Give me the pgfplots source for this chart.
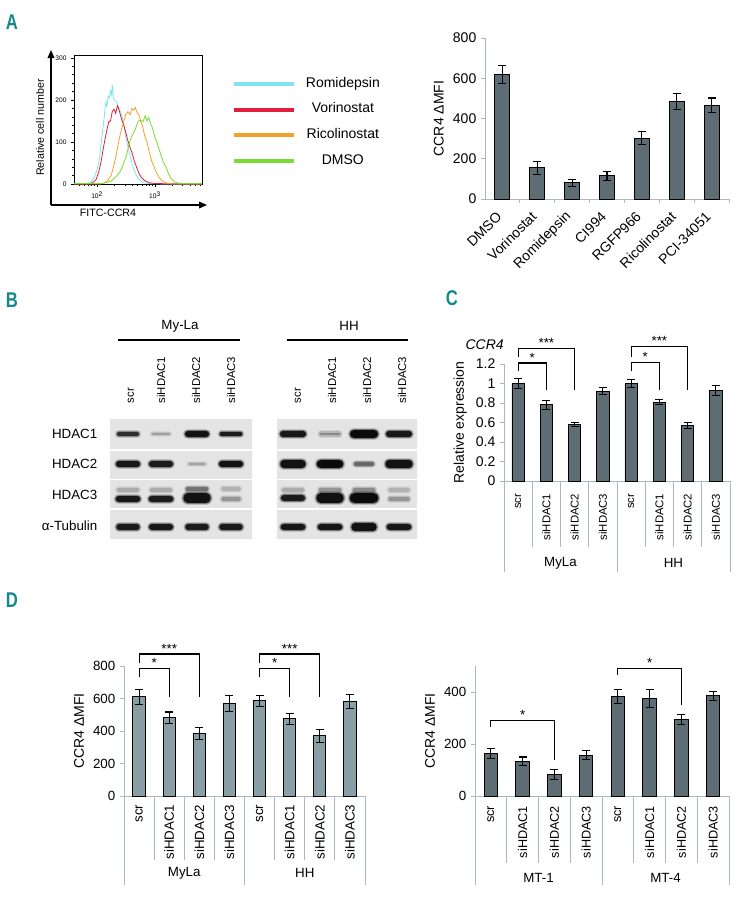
\documentclass[border=0pt]{standalone}
\usepackage{fontspec}
\setmainfont{Liberation Sans}
\usepackage{graphicx}
\usepackage{pgfplots}
\pgfplotsset{compat=1.18}
\usetikzlibrary{arrows.meta}

\definecolor{bardark}{RGB}{94,108,116}
\definecolor{barlight}{RGB}{138,158,165}
\definecolor{axgray}{RGB}{172,184,190}
\definecolor{panel}{RGB}{20,137,139}
\definecolor{romi}{RGB}{128,228,240}
\definecolor{vori}{RGB}{225,30,60}
\definecolor{rico}{RGB}{245,160,40}
\definecolor{dmso}{RGB}{120,220,50}
\definecolor{blotbg}{RGB}{228,228,228}

\pgfplotsset{
  base/.style={scale only axis, clip=false, anchor=south west,
    /pgf/number format/assume math mode=true},
  barax/.style={base,
    axis x line*=bottom, axis y line*=left,
    axis line style={axgray, line width=0.7pt},
    tick align=outside, ytick pos=left, xtick pos=bottom,
    major tick length=3pt,
    ytick style={axgray, line width=0.7pt},
    xtick style={draw=none},
    yticklabel style={font=\fontsize{10.5}{12}\selectfont},
    ylabel style={font=\fontsize{10.5}{12}\selectfont},
    xmin=-0.5},
  mybar/.style 2 args={ybar, bar width=#1, fill=#2, draw=black, line width=0.7pt,
    error bars/.cd, y dir=both, y explicit,
    error bar style={black, line width=0.8pt},
    error mark options={black, rotate=90, mark size=3pt, line width=0.8pt}},
  sep/.style={axgray, line width=0.7pt},
  brk/.style={black, line width=0.8pt},
}
\tikzset{star/.style={anchor=south, inner sep=0.5pt, font=\fontsize{10}{11}\selectfont},
  grp/.style={font=\fontsize{10}{12}\selectfont},
  lane/.style={rotate=90, anchor=west, font=\fontsize{8.5}{10}\selectfont},
  letter/.style={font=\fontsize{16}{17}\selectfont\bfseries, text=panel}}

% blot band: x1, x2, y, thickness (pt), darkness (%)
\newcommand\band[5]{%
  \addplot[color=black!#5!blotbg, line width=#4pt+3.2pt, line cap=round, opacity=0.18] coordinates {(#1,#3) (#2,#3)};
  \addplot[color=black!#5!blotbg, line width=#4pt+1.6pt, line cap=round, opacity=0.4] coordinates {(#1,#3) (#2,#3)};
  \addplot[color=black!#5!blotbg, line width=#4pt, line cap=round] coordinates {(#1,#3) (#2,#3)};}

\begin{document}
\begin{tikzpicture}
\useasboundingbox (0,0) rectangle (558pt,-677.25pt);

\node[letter] at (9pt,-16.5pt) {\scalebox{0.78}[1]{A}};
\node[letter] at (9pt,-225pt) {\scalebox{0.78}[1]{B}};
\node[letter] at (339pt,-223.5pt) {\scalebox{0.78}[1]{C}};
\node[letter] at (9pt,-450pt) {\scalebox{0.78}[1]{D}};

% ---------- A: histogram ----------
\begin{axis}[base, at={(38.25pt,-153.75pt)}, width=117pt, height=116.25pt,
  xmin=0, xmax=1, ymin=0, ymax=1, axis lines=left, ticks=none,
  axis line style={black, line width=1pt, -{Triangle[length=6pt,width=5pt]}},
  xlabel={FITC-CCR4}, ylabel={Relative cell number},
  label style={font=\fontsize{8}{9}\selectfont},
  xlabel style={at={(axis description cs:0.365,-0.052)}, anchor=center},
  ylabel style={at={(axis description cs:-0.07,0.5)}, anchor=center}]
\end{axis}

\begin{axis}[base, at={(55.5pt,-138pt)}, width=96pt, height=96.75pt,
  xmin=1.6, xmax=3.81, ymin=0, ymax=307,
  axis line style={black, line width=0.5pt},
  tick align=outside, xtick pos=bottom, ytick pos=left,
  major tick length=2pt, minor tick length=1.2pt,
  tick style={black, line width=0.4pt},
  xtick={2,3}, xticklabels={10\textsuperscript{2},10\textsuperscript{3}},
  minor xtick={1.699,1.778,1.845,1.903,1.954,2.301,2.477,2.602,2.699,2.778,2.845,2.903,2.954,3.301,3.477,3.602,3.699,3.778},
  ytick={0,100,200,300}, minor y tick num=4,
  tick label style={font=\fontsize{5}{6}\selectfont},
  legend style={at={(axis description cs:1.234,0.477)}, anchor=west, draw=none, fill=none,
    inner sep=0pt, row sep=5.3pt, column sep=4pt, font=\fontsize{10.5}{12}\selectfont,
    nodes={inner sep=2pt, text height=7.5pt, text depth=2.5pt}},
  legend image code/.code={\draw[#1, line width=3pt] (0pt,0pt) -- (45pt,0pt);}]
\addplot[romi, line width=0.6pt] coordinates {
 (1.60,1) (1.75,1) (1.85,2) (1.90,6) (1.95,15) (2.00,35) (2.04,62) (2.08,110) (2.11,145)
 (2.13,170) (2.15,195) (2.17,185) (2.19,210) (2.21,205) (2.23,222) (2.25,212) (2.26,236)
 (2.28,205) (2.30,200) (2.33,196) (2.36,185) (2.40,172) (2.43,160) (2.46,140) (2.49,115)
 (2.52,95) (2.55,78) (2.58,60) (2.62,40) (2.66,25) (2.70,15) (2.75,8) (2.80,3) (2.90,1)
 (3.20,0) (3.81,0)};
\addlegendentry{\makebox[58pt]{Romidepsin}}
\addplot[vori, line width=0.6pt] coordinates {
 (1.60,0) (1.85,0) (1.92,3) (1.98,10) (2.03,30) (2.07,55) (2.10,80) (2.14,110) (2.17,130)
 (2.20,148) (2.23,150) (2.26,172) (2.29,178) (2.32,168) (2.35,186) (2.37,180) (2.40,165)
 (2.43,150) (2.46,140) (2.49,125) (2.52,108) (2.56,90) (2.60,75) (2.64,55) (2.68,40)
 (2.72,26) (2.76,16) (2.82,8) (2.90,3) (3.00,1) (3.81,0)};
\addlegendentry{\makebox[58pt]{Vorinostat}}
\addplot[rico, line width=0.6pt] coordinates {
 (1.60,0) (2.05,0) (2.12,2) (2.18,8) (2.24,20) (2.29,45) (2.33,70) (2.37,100) (2.41,125)
 (2.45,145) (2.49,165) (2.53,172) (2.57,165) (2.60,180) (2.63,176) (2.66,182) (2.69,170)
 (2.72,165) (2.75,150) (2.78,140) (2.82,115) (2.86,100) (2.90,75) (2.94,55) (2.98,42)
 (3.02,28) (3.07,16) (3.12,8) (3.20,2) (3.30,0) (3.81,0)};
\addlegendentry{\makebox[58pt]{Ricolinostat}}
\addplot[dmso, line width=0.6pt] coordinates {
 (1.60,1) (2.05,1) (2.15,3) (2.25,8) (2.33,18) (2.40,30) (2.46,50) (2.51,70) (2.55,95)
 (2.59,112) (2.63,122) (2.67,135) (2.71,150) (2.75,152) (2.79,148) (2.83,162) (2.86,150)
 (2.89,158) (2.92,145) (2.95,135) (2.99,115) (3.03,100) (3.07,82) (3.11,65) (3.15,50)
 (3.19,40) (3.23,25) (3.28,12) (3.34,5) (3.40,2) (3.50,1) (3.81,1)};
\addlegendentry{\makebox[58pt]{DMSO}}
\end{axis}

% ---------- A: bar chart ----------
\begin{axis}[barax, at={(363.75pt,-149.25pt)}, width=183pt, height=120.75pt,
  xmax=6.5, ymin=0, ymax=800, ytick={0,200,400,600,800},
  xtick={0,...,6},
  xticklabels={DMSO,Vorinostat,Romidepsin,CI994,RGFP966,Ricolinostat,PCI-34051},
  xticklabel style={yshift=-6pt, rotate=45, anchor=east, font=\fontsize{10.5}{12}\selectfont},
  ylabel={CCR4 ΔMFI}]
\addplot[mybar={11.25pt}{bardark}] coordinates {
 (0,620) +- (0,45) (1,155) +- (0,33) (2,80) +- (0,17) (3,115) +- (0,22)
 (4,302) +- (0,33) (5,485) +- (0,40) (6,465) +- (0,37)};
\addplot[sep] coordinates {(0.5,0) (0.5,-20)};
\addplot[sep] coordinates {(1.5,0) (1.5,-20)};
\addplot[sep] coordinates {(2.5,0) (2.5,-20)};
\addplot[sep] coordinates {(3.5,0) (3.5,-20)};
\addplot[sep] coordinates {(4.5,0) (4.5,-20)};
\addplot[sep] coordinates {(5.5,0) (5.5,-20)};
\addplot[sep] coordinates {(6.5,0) (6.5,-20)};
\end{axis}

% ---------- B: western blots ----------
\begin{axis}[base, at={(82.5pt,-404.25pt)}, width=106.5pt, height=90pt,
  xmin=0, xmax=142, ymin=0, ymax=120, y dir=reverse,
  ticks=none, axis line style={draw=none}]
\addplot[fill=blotbg, draw=none] coordinates {(0,0) (142,0) (142,120) (0,120) (0,0)};
\band{9}{27}{15}{3}{80} \band{43}{59}{15}{1.8}{30} \band{78}{96}{15}{4.5}{92} \band{112}{130}{15}{3.5}{88}
\band{9}{27}{45}{4.5}{90} \band{42}{60}{45}{4.5}{88} \band{80}{94}{45}{2}{30} \band{112}{130}{45}{4.5}{92}
\band{9}{27}{71}{3}{25} \band{42}{60}{71}{3}{25} \band{78}{96}{70}{3.5}{50} \band{113}{129}{70}{2.5}{22}
\band{9}{27}{80}{5}{90} \band{42}{60}{80}{5}{88} \band{78}{96}{79}{7}{92} \band{113}{129}{80}{2.5}{35}
\band{9}{27}{108}{4}{88} \band{42}{60}{108}{4.5}{90} \band{78}{96}{108}{4}{88} \band{112}{130}{108}{4}{88}
\addplot[white, line width=1.2pt] coordinates {(0,31) (142,31)};
\addplot[white, line width=1.2pt] coordinates {(0,60.5) (142,60.5)};
\addplot[white, line width=1.2pt] coordinates {(0,90) (142,90)};
\addplot[black, line width=0.8pt] coordinates {(8,-79) (130,-79)};
\node[grp] at (axis cs:70,-93) {My-La};
\node[lane] at (axis cs:21,-11) {scr};
\node[lane] at (axis cs:51,-11) {siHDAC1};
\node[lane] at (axis cs:86,-11) {siHDAC2};
\node[lane] at (axis cs:121,-11) {siHDAC3};
\node[anchor=east, grp] at (axis cs:-8,15) {HDAC1};
\node[anchor=east, grp] at (axis cs:-8,45) {HDAC2};
\node[anchor=east, grp] at (axis cs:-8,76) {HDAC3};
\node[anchor=east, grp] at (axis cs:-8,107) {α-Tubulin};
\end{axis}

\begin{axis}[base, at={(207.75pt,-404.25pt)}, width=105pt, height=90pt,
  xmin=0, xmax=140, ymin=0, ymax=120, y dir=reverse,
  ticks=none, axis line style={draw=none}]
\addplot[fill=blotbg, draw=none] coordinates {(0,0) (140,0) (140,120) (0,120) (0,0)};
\band{6}{26}{15}{4.5}{90} \band{44}{62}{15}{2.2}{40} \band{77}{97}{15}{6}{95} \band{112}{132}{15}{4.5}{90}
\band{7}{25}{45}{5.5}{92} \band{44}{62}{45}{6.5}{95} \band{79}{95}{45}{3}{55} \band{112}{132}{45}{5.5}{92}
\band{7}{25}{71}{3}{25} \band{44}{62}{71}{3.5}{35} \band{78}{96}{71}{3.5}{40} \band{113}{131}{71}{2.5}{22}
\band{7}{25}{79}{4.5}{88} \band{44}{62}{79}{7}{93} \band{78}{96}{79}{8}{95} \band{113}{131}{80}{2.5}{35}
\band{7}{25}{108}{5}{90} \band{44}{62}{108}{5}{90} \band{78}{96}{108}{5.5}{92} \band{113}{131}{108}{5}{90}
\addplot[white, line width=1.2pt] coordinates {(0,31) (140,31)};
\addplot[white, line width=1.2pt] coordinates {(0,60.5) (140,60.5)};
\addplot[white, line width=1.2pt] coordinates {(0,90) (140,90)};
\addplot[black, line width=0.8pt] coordinates {(10,-79) (131,-79)};
\node[grp] at (axis cs:72,-93) {HH};
\node[lane] at (axis cs:21,-11) {scr};
\node[lane] at (axis cs:55,-11) {siHDAC1};
\node[lane] at (axis cs:90,-11) {siHDAC2};
\node[lane] at (axis cs:125,-11) {siHDAC3};
\end{axis}

% ---------- C: relative expression ----------
\begin{axis}[barax, at={(378pt,-360.75pt)}, width=169.5pt, height=87.75pt,
  xmax=7.5, ymin=0, ymax=1.2, ytick={0,0.2,0.4,0.6,0.8,1,1.2},
  xtick={0,...,7},
  xticklabels={scr,siHDAC1,siHDAC2,siHDAC3,scr,siHDAC1,siHDAC2,siHDAC3},
  xticklabel style={yshift=-3pt, rotate=90, anchor=east, font=\fontsize{8.5}{10}\selectfont},
  ylabel={Relative expression}]
\addplot[mybar={9.2pt}{bardark}] coordinates {
 (0,1.00) +- (0,0.05) (1,0.78) +- (0,0.045) (2,0.58) +- (0,0.02) (3,0.92) +- (0,0.035)
 (4,1.00) +- (0,0.04) (5,0.81) +- (0,0.025) (6,0.57) +- (0,0.03) (7,0.93) +- (0,0.05)};
\addplot[sep] coordinates {(0.5,0) (0.5,-0.677)};
\addplot[sep] coordinates {(1.5,0) (1.5,-0.677)};
\addplot[sep] coordinates {(2.5,0) (2.5,-0.677)};
\addplot[sep] coordinates {(4.5,0) (4.5,-0.677)};
\addplot[sep] coordinates {(5.5,0) (5.5,-0.677)};
\addplot[sep] coordinates {(6.5,0) (6.5,-0.677)};
\addplot[sep] coordinates {(-0.5,0) (-0.5,-0.933)};
\addplot[sep] coordinates {(3.5,0) (3.5,-0.933)};
\addplot[sep] coordinates {(7.5,0) (7.5,-0.933)};
\addplot[brk] coordinates {(0,1.27) (0,1.36) (2,1.36) (2,0.93)};
\addplot[brk] coordinates {(0,1.13) (0,1.21) (1,1.21) (1,0.93)};
\addplot[brk] coordinates {(4,1.27) (4,1.38) (6,1.38) (6,0.93)};
\addplot[brk] coordinates {(4,1.13) (4,1.22) (5,1.22) (5,0.93)};
\node[star] at (axis cs:1,1.36) {***};
\node[star] at (axis cs:0.5,1.21) {*};
\node[star] at (axis cs:5,1.38) {***};
\node[star] at (axis cs:4.5,1.22) {*};
\node[grp] at (axis cs:1.5,-0.84) {MyLa};
\node[grp] at (axis cs:5.5,-0.84) {HH};
\node[anchor=east, inner sep=0pt, font=\fontsize{10.5}{12}\selectfont\itshape] at (axis cs:-0.5,1.395) {CCR4};
\end{axis}

% ---------- D: MyLa / HH ----------
\begin{axis}[barax, at={(93pt,-597pt)}, width=180.75pt, height=97.5pt,
  xmax=7.5, ymin=0, ymax=800, ytick={0,200,400,600,800},
  yticklabel style={font=\fontsize{10}{12}\selectfont},
  xtick={0,...,7},
  xticklabels={scr,siHDAC1,siHDAC2,siHDAC3,scr,siHDAC1,siHDAC2,siHDAC3},
  xticklabel style={rotate=90, anchor=east, font=\fontsize{10}{12}\selectfont},
  ylabel={CCR4 ΔMFI}]
\addplot[mybar={9.2pt}{barlight}] coordinates {
 (0,610) +- (0,45) (1,482) +- (0,35) (2,385) +- (0,35) (3,570) +- (0,48)
 (4,585) +- (0,35) (5,475) +- (0,35) (6,370) +- (0,38) (7,582) +- (0,45)};
\addplot[sep] coordinates {(0.5,0) (0.5,-394)};
\addplot[sep] coordinates {(1.5,0) (1.5,-394)};
\addplot[sep] coordinates {(2.5,0) (2.5,-394)};
\addplot[sep] coordinates {(4.5,0) (4.5,-394)};
\addplot[sep] coordinates {(5.5,0) (5.5,-394)};
\addplot[sep] coordinates {(6.5,0) (6.5,-394)};
\addplot[sep] coordinates {(-0.5,0) (-0.5,-548)};
\addplot[sep] coordinates {(3.5,0) (3.5,-548)};
\addplot[sep] coordinates {(7.5,0) (7.5,-548)};
\addplot[brk] coordinates {(0,818) (0,874) (2,874) (2,609)};
\addplot[brk] coordinates {(0,734) (0,782) (1,782) (1,609)};
\addplot[brk] coordinates {(4,818) (4,874) (6,874) (6,609)};
\addplot[brk] coordinates {(4,734) (4,782) (5,782) (5,609)};
\node[star] at (axis cs:1,874) {***};
\node[star] at (axis cs:0.5,782) {*};
\node[star] at (axis cs:5,874) {***};
\node[star] at (axis cs:4.5,782) {*};
\node[grp] at (axis cs:1.5,-474) {MyLa};
\node[grp] at (axis cs:5.5,-474) {HH};
\end{axis}

% ---------- D: MT-1 / MT-4 ----------
\begin{axis}[barax, at={(356.25pt,-597pt)}, width=190.5pt, height=97.5pt,
  xmax=7.5, ymin=0, ymax=500, ytick={0,200,400},
  yticklabel style={font=\fontsize{10}{12}\selectfont},
  xtick={0,...,7},
  xticklabels={scr,siHDAC1,siHDAC2,siHDAC3,scr,siHDAC1,siHDAC2,siHDAC3},
  xticklabel style={yshift=-1pt, rotate=90, anchor=east, font=\fontsize{9.5}{11}\selectfont},
  ylabel={CCR4 ΔMFI}]
\addplot[mybar={10pt}{bardark}] coordinates {
 (0,163) +- (0,18) (1,133) +- (0,17) (2,82) +- (0,20) (3,157) +- (0,18)
 (4,382) +- (0,28) (5,375) +- (0,35) (6,295) +- (0,20) (7,385) +- (0,17)};
\addplot[sep] coordinates {(0.5,0) (0.5,-258)};
\addplot[sep] coordinates {(1.5,0) (1.5,-258)};
\addplot[sep] coordinates {(2.5,0) (2.5,-258)};
\addplot[sep] coordinates {(4.5,0) (4.5,-258)};
\addplot[sep] coordinates {(5.5,0) (5.5,-258)};
\addplot[sep] coordinates {(6.5,0) (6.5,-258)};
\addplot[sep] coordinates {(-0.5,0) (-0.5,-342)};
\addplot[sep] coordinates {(3.5,0) (3.5,-342)};
\addplot[sep] coordinates {(7.5,0) (7.5,-342)};
\addplot[brk] coordinates {(0,265) (0,292) (2,292) (2,138)};
\addplot[brk] coordinates {(4,465) (4,492) (6,492) (6,350)};
\node[star] at (axis cs:1,292) {*};
\node[star] at (axis cs:5,492) {*};
\node[grp] at (axis cs:1.5,-315) {MT-1};
\node[grp] at (axis cs:5.5,-315) {MT-4};
\end{axis}
\end{tikzpicture}
\end{document}
